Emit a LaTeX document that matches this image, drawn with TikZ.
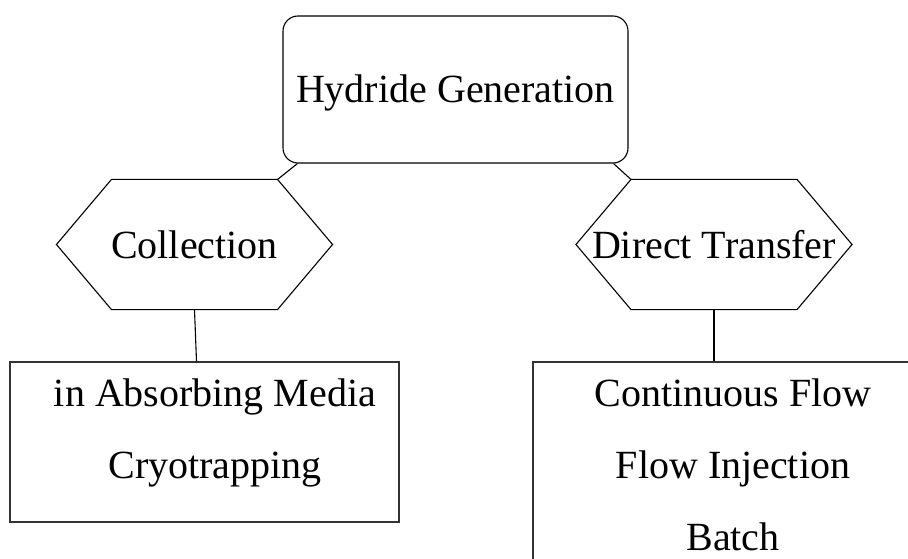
\documentclass[tikz,border=0pt]{standalone}
\usepackage{fontspec}
\setmainfont{Liberation Serif}
\usepackage{tikz}

\begin{document}
\begin{tikzpicture}[x=1pt,y=-1pt,line width=1.1pt,
  every node/.style={font=\fontsize{40}{72}\selectfont},
  topbox/.style={draw, rounded corners=15pt, minimum width=345pt, minimum height=147pt, inner sep=0pt, text height=27pt, text depth=0pt},
  hexbox/.style={minimum width=275pt, minimum height=129pt, inner sep=0pt, text height=27pt, text depth=0pt},
  listbox/.style={draw=black!80, line width=1.4pt, inner sep=0pt},
  listtext/.style={align=center, inner sep=0pt, anchor=north}]
\useasboundingbox (0,0) rectangle (908,559);
\clip (0,0) rectangle (908,559);
  % top
  \node[topbox] (hydride) at (455.5,89.5) {Hydride Generation};
  % hexagons
  \node[hexbox] (coll) at (194.5,244.5) {Collection};
  \node[hexbox] (direct) at (714,244.5) {Direct Transfer};
  \foreach \n in {coll,direct}
    \draw ([xshift=55pt]\n.north west) -- ([xshift=-55pt]\n.north east) -- (\n.east)
      -- ([xshift=-55pt]\n.south east) -- ([xshift=55pt]\n.south west) -- (\n.west) -- cycle;
  \draw ([xshift=15pt]hydride.south west) -- ([xshift=-55pt]coll.north east);
  \draw ([xshift=-15pt]hydride.south east) -- ([xshift=55pt]direct.north west);
  % lists
  \node[listbox, minimum width=389pt, minimum height=160pt] (absorb) at (204.5,442) {};
  \node[listtext] (absorbtxt) at (215,378) {in Absorbing Media\\Cryotrapping};
  \node[listbox, minimum width=400pt, minimum height=240pt] (flow) at (733,482) {};
  \node[listtext] (flowtxt) at (733,378) {Continuous Flow\\Flow Injection\\Batch};
  \draw (coll.south) -- ([xshift=-8pt]absorb.north);
  \draw (direct.south) -- (direct.south |- flow.north);
\end{tikzpicture}
\end{document}
